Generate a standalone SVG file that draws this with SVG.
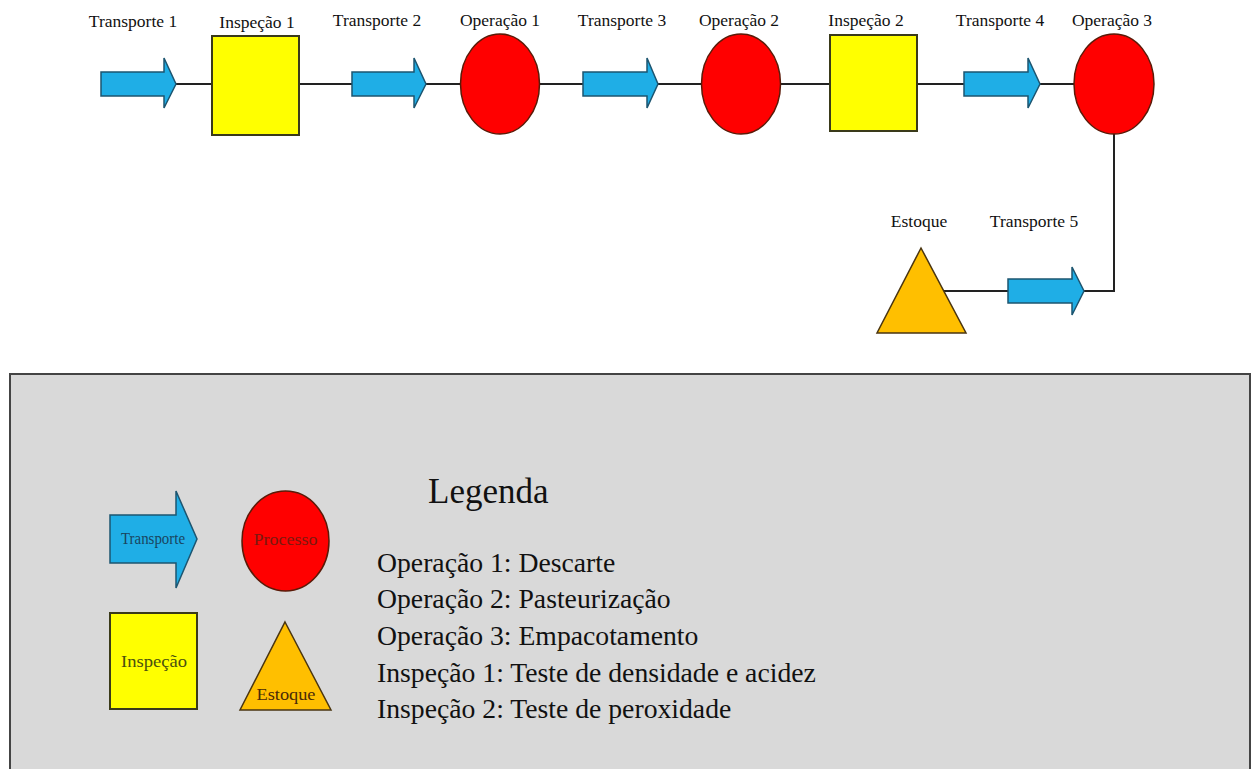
<svg xmlns="http://www.w3.org/2000/svg" width="1253" height="769" viewBox="0 0 1253 769">
<style>
.lbl{font-family:"Liberation Serif","Times New Roman",serif;font-size:17.5px;fill:#111;text-anchor:middle}
.arrow{fill:#1faee6;stroke:#1d5570;stroke-width:1.5;stroke-linejoin:miter}
.proc{fill:#ff0000;stroke:#5a1a08;stroke-width:1.5}
.insp{fill:#ffff00;stroke:#3a3a1a;stroke-width:2}
.stock{fill:#ffbf00;stroke:#4a3510;stroke-width:1.5}
.conn{fill:none;stroke:#222;stroke-width:2}
.leg{font-family:"Liberation Serif","Times New Roman",serif;font-size:27.7px;fill:#111}
.sym{font-family:"Liberation Serif","Times New Roman",serif;font-size:17px;text-anchor:middle}
</style>
<rect width="1253" height="769" fill="#ffffff"/>

<g id="connectors">
  <line class="conn" x1="176" y1="84" x2="212" y2="84"/>
  <line class="conn" x1="299" y1="84" x2="352" y2="84"/>
  <line class="conn" x1="426" y1="84" x2="461" y2="84"/>
  <line class="conn" x1="540" y1="84" x2="583" y2="84"/>
  <line class="conn" x1="658" y1="84" x2="702" y2="84"/>
  <line class="conn" x1="781" y1="84" x2="830" y2="84"/>
  <line class="conn" x1="917" y1="84" x2="964" y2="84"/>
  <line class="conn" x1="1040" y1="84" x2="1074" y2="84"/>
  <polyline class="conn" points="1114,134 1114,291 1084,291"/>
  <line class="conn" x1="944" y1="291" x2="1008" y2="291"/>
</g>

<g id="transporte1">
  <path class="arrow" d="M101,72 H164 V58 L176,84 L164,108 V96 H101 Z"/>
  <text class="lbl" x="133" y="27">Transporte 1</text>
</g>
<g id="inspecao1">
  <rect class="insp" x="212" y="36" width="87" height="99"/>
  <text class="lbl" x="257" y="28">Inspeção 1</text>
</g>
<g id="transporte2">
  <path class="arrow" d="M352,72 H414 V58 L426,84 L414,108 V96 H352 Z"/>
  <text class="lbl" x="377" y="26">Transporte 2</text>
</g>
<g id="operacao1">
  <ellipse class="proc" cx="500" cy="84" rx="39.5" ry="50"/>
  <text class="lbl" x="500" y="26">Operação 1</text>
</g>
<g id="transporte3">
  <path class="arrow" d="M583,72 H647 V58 L658,84 L647,108 V96 H583 Z"/>
  <text class="lbl" x="622" y="26">Transporte 3</text>
</g>
<g id="operacao2">
  <ellipse class="proc" cx="741" cy="84" rx="39.5" ry="50"/>
  <text class="lbl" x="739" y="26">Operação 2</text>
</g>
<g id="inspecao2">
  <rect class="insp" x="830" y="35" width="87" height="96"/>
  <text class="lbl" x="866" y="26">Inspeção 2</text>
</g>
<g id="transporte4">
  <path class="arrow" d="M964,72 H1028 V58 L1040,84 L1028,108 V96 H964 Z"/>
  <text class="lbl" x="1000" y="26">Transporte 4</text>
</g>
<g id="operacao3">
  <ellipse class="proc" cx="1114" cy="84" rx="40" ry="50"/>
  <text class="lbl" x="1112" y="26">Operação 3</text>
</g>
<g id="estoque">
  <polygon class="stock" points="921,248 966,333 877,333"/>
  <text class="lbl" x="919" y="227">Estoque</text>
</g>
<g id="transporte5">
  <path class="arrow" d="M1008,279 H1072 V267 L1084,291 L1072,315 V303 H1008 Z"/>
  <text class="lbl" x="1034" y="227">Transporte 5</text>
</g>

<g id="legenda">
  <rect x="10" y="374" width="1240" height="420" fill="#d9d9d9" stroke="#444" stroke-width="2"/>
  <g id="leg-transporte">
    <path class="arrow" d="M110,515 H176 V491 L197,539 L176,588 V563 H110 Z"/>
    <text class="sym" x="153" y="544" fill="#1a4560" textLength="64" lengthAdjust="spacingAndGlyphs">Transporte</text>
  </g>
  <g id="leg-processo">
    <ellipse class="proc" cx="285.5" cy="541" rx="43.5" ry="50"/>
    <text class="sym" x="285.5" y="545" fill="#7a1a10" textLength="64" lengthAdjust="spacingAndGlyphs">Processo</text>
  </g>
  <g id="leg-inspecao">
    <rect class="insp" x="110" y="613" width="87" height="96"/>
    <text class="sym" x="154" y="667" fill="#4a5010" textLength="66" lengthAdjust="spacingAndGlyphs">Inspeção</text>
  </g>
  <g id="leg-estoque">
    <polygon class="stock" points="285,622 331,710 240,710"/>
    <text class="sym" x="286" y="700" fill="#4a2a08" textLength="59" lengthAdjust="spacingAndGlyphs">Estoque</text>
  </g>
  <text x="428" y="503" font-family="Liberation Serif, Times New Roman, serif" font-size="35" fill="#111">Legenda</text>
  <text class="leg" x="377" y="572">Operação 1: Descarte</text>
  <text class="leg" x="377" y="608">Operação 2: Pasteurização</text>
  <text class="leg" x="377" y="645">Operação 3: Empacotamento</text>
  <text class="leg" x="377" y="682">Inspeção 1: Teste de densidade e acidez</text>
  <text class="leg" x="377" y="718">Inspeção 2: Teste de peroxidade</text>
</g>
</svg>
